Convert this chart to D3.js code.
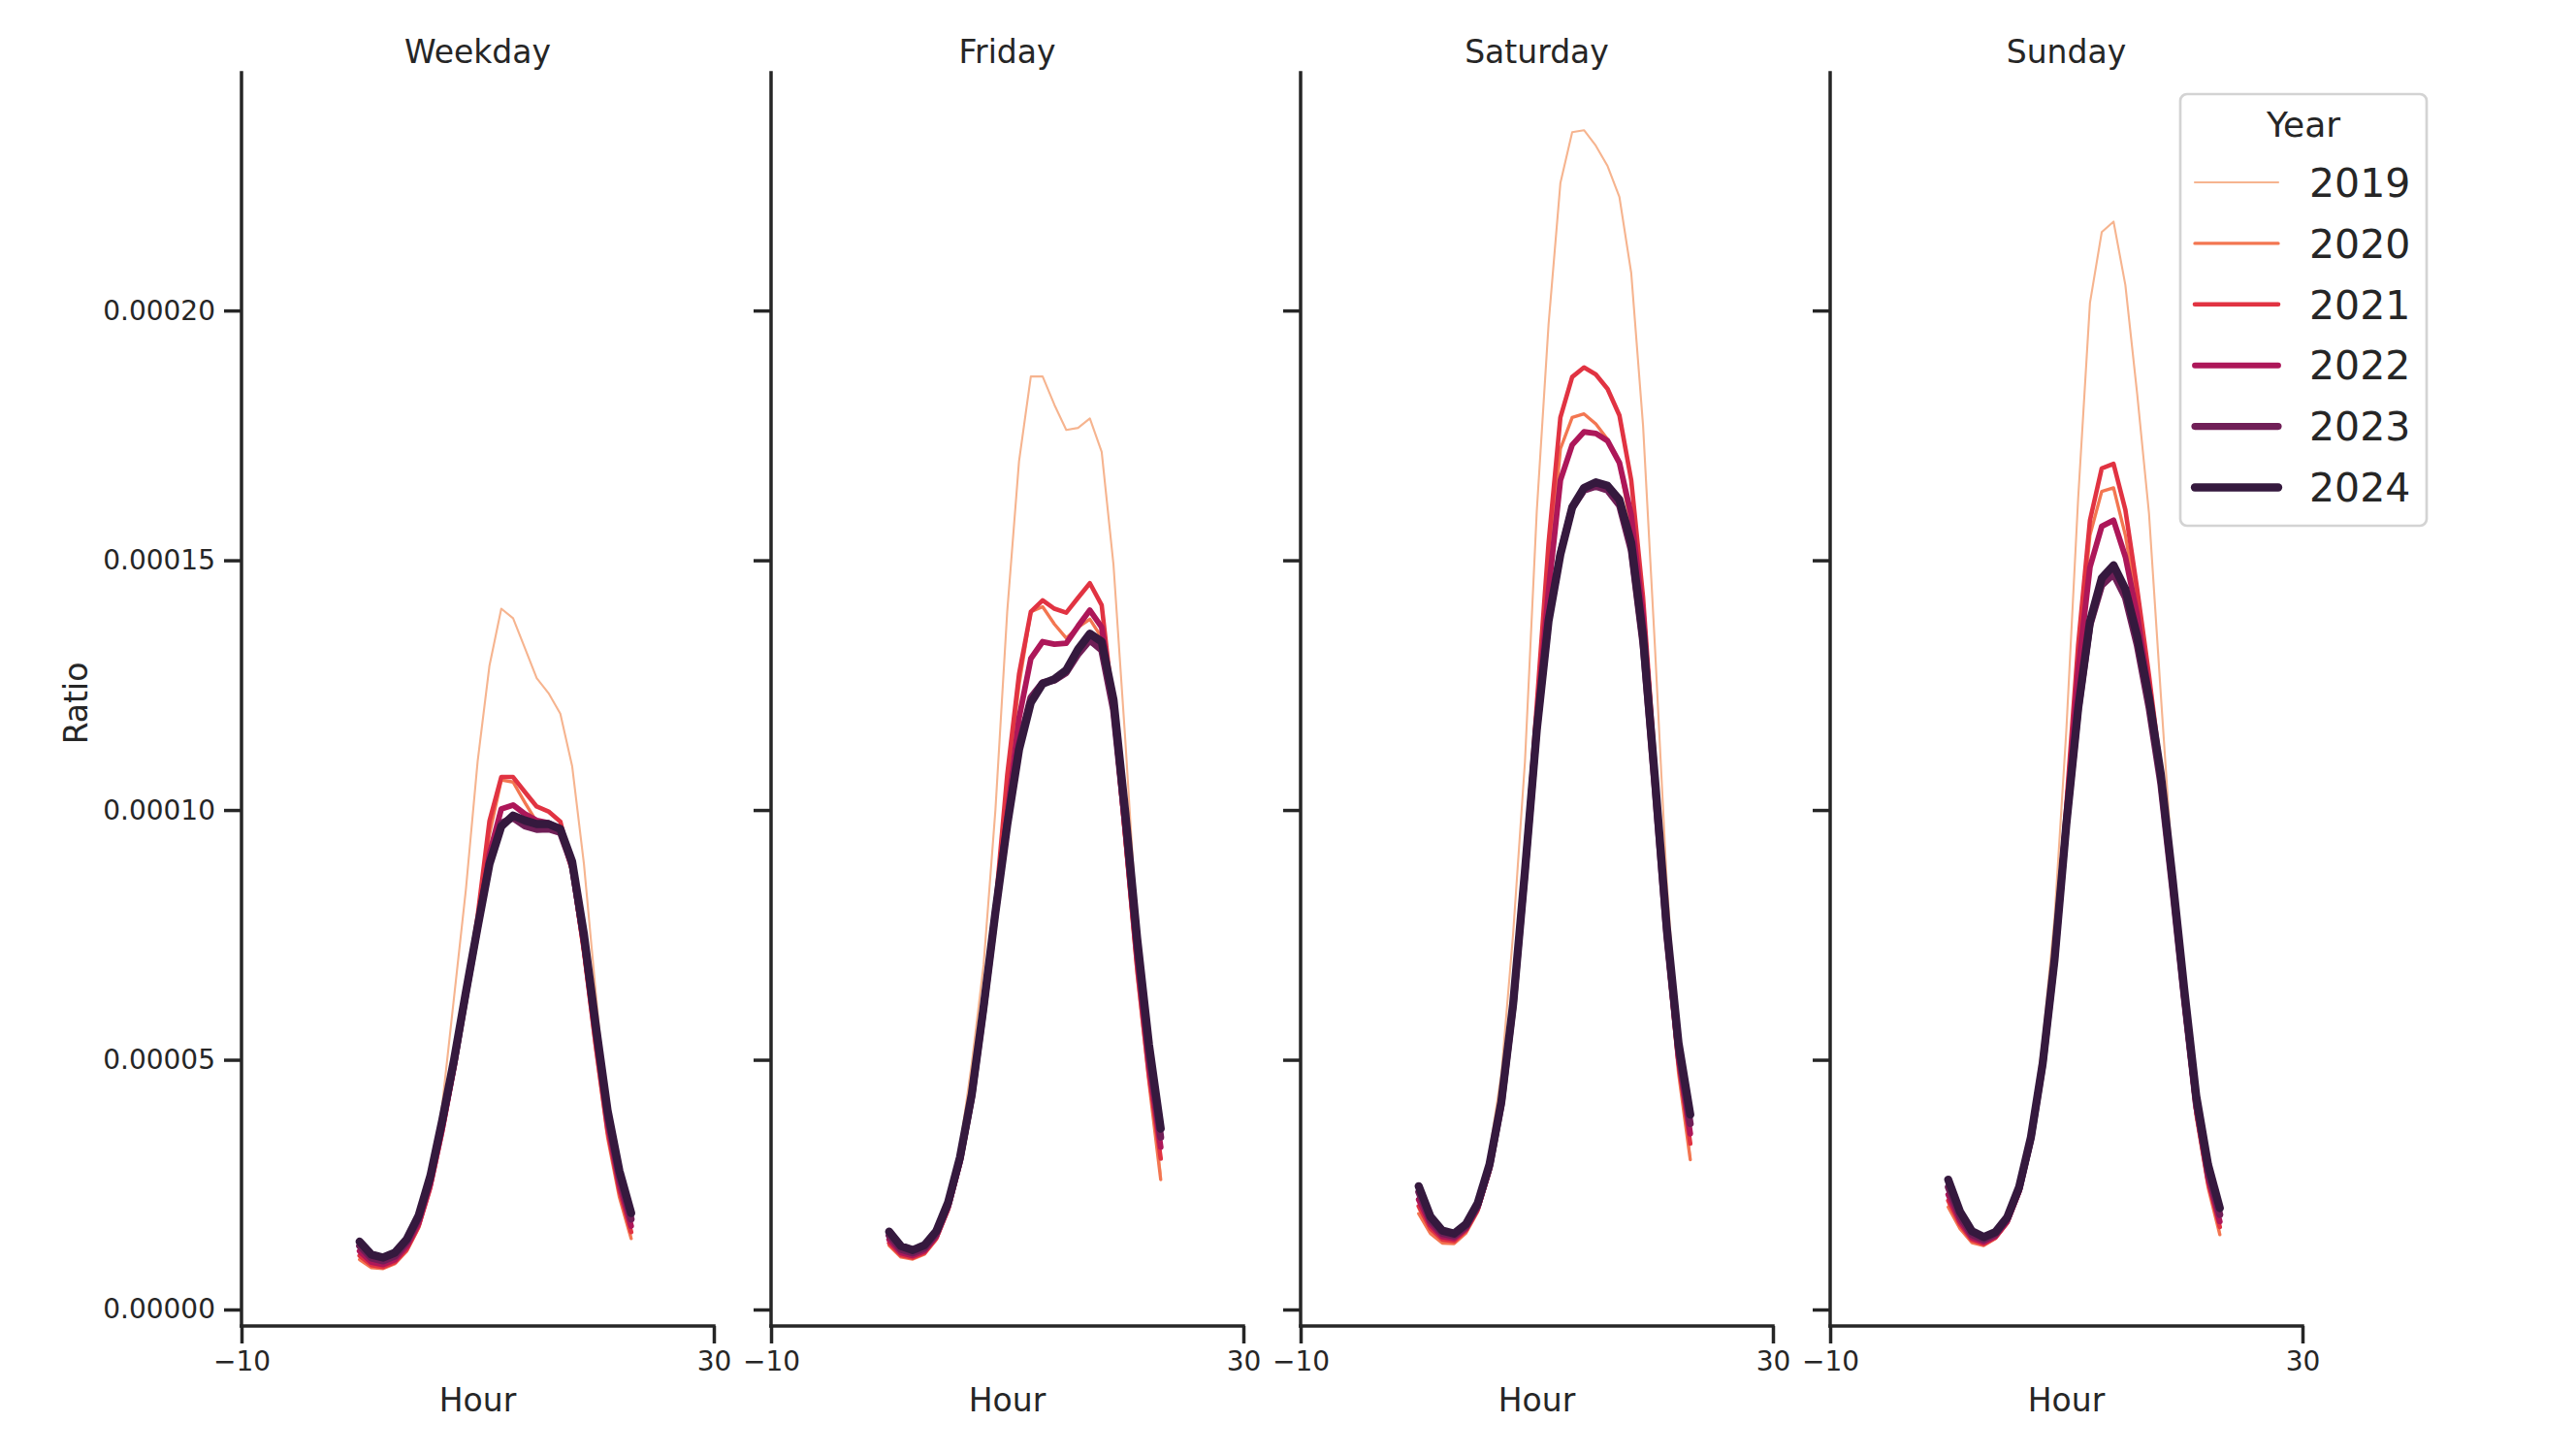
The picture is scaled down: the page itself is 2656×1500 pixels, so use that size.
<!DOCTYPE html>
<html>
<head>
<meta charset="utf-8">
<script src="https://cdn.jsdelivr.net/npm/d3@7"></script>
<style>
  html, body { margin: 0; padding: 0; background: #ffffff; }
  svg { display: block; font-family: "DejaVu Sans", sans-serif; }
</style>
</head>
<body>
<svg id="chart" width="2656" height="1500"></svg>
<script>
// ---------------- data (values in units of 1e-5) ----------------
const UNIT = 1e-5;
const hours = [0,1,2,3,4,5,6,7,8,9,10,11,12,13,14,15,16,17,18,19,20,21,22,23];
const years = [2019, 2020, 2021, 2022, 2023, 2024];
const panels = ["Weekday", "Friday", "Saturday", "Sunday"];
const yTicks = [0, 0.00005, 0.0001, 0.00015, 0.0002];
const yTickLabels = ["0.00000", "0.00005", "0.00010", "0.00015", "0.00020"];
const xTicks = [-10, 30];
const xTickLabels = ["\u221210", "30"];
const colors = ["#f6b48f", "#f37651", "#e13342", "#ad1759", "#701f57", "#35193e"];
const widths = [2.1, 3.35, 4.6, 5.85, 7.1, 8.35];

const weekday2019 = [1.04,0.87,0.85,0.95,1.22,1.72,2.58,4.10,6.25,8.40,10.98,12.89,14.03,13.84,13.24,12.64,12.34,11.93,10.88,8.92,6.35,3.85,2.28,1.45];
const weekday2020 = [1.00,0.84,0.82,0.92,1.17,1.63,2.41,3.52,4.80,6.28,7.80,9.52,10.60,10.56,10.15,9.76,9.70,9.55,8.74,7.08,5.18,3.45,2.25,1.42];
const weekday2021 = [1.08,0.89,0.85,0.95,1.21,1.67,2.45,3.55,4.83,6.32,7.88,9.78,10.66,10.66,10.36,10.07,9.97,9.77,8.82,7.18,5.30,3.58,2.38,1.55];
const weekday2022 = [1.17,0.95,0.90,1.00,1.27,1.73,2.52,3.62,4.86,6.28,7.70,9.12,10.02,10.10,9.92,9.79,9.74,9.62,8.84,7.30,5.45,3.73,2.51,1.67];
const weekday2023 = [1.27,1.03,0.97,1.07,1.35,1.82,2.62,3.73,4.95,6.32,7.66,8.96,9.74,9.84,9.68,9.61,9.62,9.55,8.90,7.40,5.58,3.87,2.66,1.81];
const weekday2024 = [1.36,1.10,1.04,1.14,1.41,1.88,2.68,3.79,5.00,6.35,7.66,8.92,9.67,9.89,9.79,9.72,9.72,9.62,8.97,7.51,5.70,3.99,2.78,1.93];

const friday2019 = [1.30,1.07,1.03,1.13,1.43,2.05,3.24,4.93,6.90,10.00,13.97,16.98,18.68,18.68,18.11,17.61,17.65,17.84,17.17,14.91,11.40,7.60,4.90,2.72];
const friday2020 = [1.28,1.05,1.01,1.11,1.40,1.98,2.90,4.18,5.98,8.00,10.50,12.50,13.97,14.07,13.72,13.44,13.66,13.82,13.45,11.85,9.30,6.70,4.55,2.60];
const friday2021 = [1.33,1.09,1.04,1.14,1.43,2.01,2.92,4.20,6.00,8.05,10.70,12.72,13.97,14.20,14.03,13.95,14.25,14.54,14.10,12.00,9.45,6.85,4.70,3.02];
const friday2022 = [1.40,1.14,1.08,1.18,1.47,2.05,2.95,4.22,6.00,7.98,9.90,11.84,13.03,13.37,13.32,13.34,13.68,14.00,13.66,12.05,9.60,7.05,4.90,3.25];
const friday2023 = [1.48,1.20,1.13,1.23,1.52,2.10,3.00,4.27,6.03,7.95,9.75,11.30,12.25,12.55,12.60,12.75,13.12,13.40,13.20,12.00,9.75,7.22,5.10,3.45];
const friday2024 = [1.56,1.27,1.19,1.29,1.57,2.15,3.05,4.31,6.06,7.95,9.70,11.21,12.15,12.53,12.62,12.80,13.22,13.53,13.37,12.21,9.95,7.44,5.31,3.62];

const saturday2019 = [2.00,1.57,1.37,1.35,1.57,2.02,3.15,4.71,7.53,10.97,15.98,19.73,22.55,23.57,23.61,23.30,22.89,22.27,20.75,17.70,13.30,8.60,5.20,3.05];
const saturday2020 = [1.92,1.52,1.33,1.32,1.53,1.96,2.74,4.00,6.00,8.80,11.90,14.70,17.23,17.86,17.93,17.73,17.42,16.92,15.66,13.60,10.50,7.25,4.75,3.00];
const saturday2021 = [2.07,1.62,1.40,1.37,1.58,2.00,2.78,4.05,6.05,8.90,12.10,15.35,17.86,18.67,18.86,18.72,18.43,17.90,16.60,14.26,10.95,7.50,4.95,3.32];
const saturday2022 = [2.20,1.70,1.46,1.42,1.62,2.04,2.82,4.08,6.06,8.80,11.80,14.40,16.60,17.31,17.57,17.54,17.39,16.95,15.90,13.90,10.70,7.50,5.05,3.52];
const saturday2023 = [2.35,1.78,1.52,1.47,1.66,2.08,2.86,4.11,6.08,8.76,11.60,13.82,15.15,16.05,16.40,16.48,16.40,16.10,15.20,13.30,10.48,7.50,5.18,3.72];
const saturday2024 = [2.47,1.86,1.58,1.52,1.71,2.13,2.91,4.16,6.12,8.78,11.60,13.79,15.12,16.06,16.45,16.56,16.49,16.21,15.35,13.47,10.66,7.68,5.34,3.90];

const sunday2019 = [2.10,1.66,1.37,1.31,1.45,1.78,2.50,3.60,5.36,7.83,11.59,16.23,20.15,21.57,21.78,20.51,18.33,15.94,12.32,8.80,6.00,3.90,2.45,1.55];
const sunday2020 = [2.05,1.62,1.34,1.28,1.42,1.72,2.32,3.33,4.85,7.05,10.00,13.00,15.50,16.38,16.45,15.50,14.10,12.45,10.60,8.35,5.95,3.85,2.45,1.50];
const sunday2021 = [2.18,1.70,1.39,1.31,1.44,1.74,2.34,3.35,4.87,7.10,10.10,13.30,15.80,16.84,16.93,16.01,14.42,12.70,10.80,8.50,6.10,3.98,2.56,1.65];
const sunday2022 = [2.30,1.77,1.44,1.35,1.47,1.77,2.37,3.38,4.88,7.05,9.85,12.80,14.86,15.68,15.80,15.07,13.91,12.40,10.65,8.45,6.15,4.05,2.65,1.76];
const sunday2023 = [2.45,1.86,1.50,1.40,1.51,1.81,2.41,3.42,4.90,7.00,9.72,12.00,13.70,14.50,14.72,14.25,13.30,12.05,10.52,8.42,6.20,4.12,2.76,1.90];
const sunday2024 = [2.60,1.96,1.57,1.45,1.55,1.85,2.45,3.45,4.93,7.00,9.71,12.03,13.77,14.64,14.90,14.42,13.48,12.25,10.72,8.62,6.38,4.28,2.90,2.03];

const seriesByPanel = {
  Weekday:  [weekday2019, weekday2020, weekday2021, weekday2022, weekday2023, weekday2024],
  Friday:   [friday2019, friday2020, friday2021, friday2022, friday2023, friday2024],
  Saturday: [saturday2019, saturday2020, saturday2021, saturday2022, saturday2023, saturday2024],
  Sunday:   [sunday2019, sunday2020, sunday2021, sunday2022, sunday2023, sunday2024]
};

// ---------------- layout ----------------
const svg = d3.select("#chart");
const TEXT = "#262626";
const panelLeft0 = 249, panelStep = 546, panelW = 487;
const plotTop = 75, plotBottom = 1367;

const y = d3.scaleLinear().domain([-3.3e-6, 2.476e-4]).range([plotBottom, plotTop]);

panels.forEach((name, pi) => {
  const left = panelLeft0 + pi * panelStep;
  const x = d3.scaleLinear().domain([-10, 30]).range([left, left + panelW]);
  const g = svg.append("g");

  // lines
  const line = d3.line().x((d, i) => x(hours[i])).y(d => y(d * UNIT));
  seriesByPanel[name].forEach((vals, yi) => {
    g.append("path")
      .datum(vals)
      .attr("d", line)
      .attr("fill", "none")
      .attr("stroke", colors[yi])
      .attr("stroke-width", widths[yi])
      .attr("stroke-linejoin", "round")
      .attr("stroke-linecap", "round");
  });

  // y axis
  const yAxis = d3.axisLeft(y).tickValues(yTicks)
    .tickFormat((d, i) => pi === 0 ? yTickLabels[i] : "")
    .tickSize(18).tickPadding(9);
  const ya = g.append("g").attr("transform", `translate(${left},0)`).call(yAxis);
  ya.select(".domain").remove();
  ya.append("line").attr("x1", 0).attr("x2", 0).attr("y1", plotTop).attr("y2", plotBottom)
    .attr("stroke", TEXT).attr("stroke-width", 3.5).attr("stroke-linecap", "square");
  ya.selectAll(".tick line").attr("stroke", TEXT).attr("stroke-width", 3.5);
  ya.selectAll(".tick text").attr("fill", TEXT).style("font-size", "28px")
    .style("font-family", "DejaVu Sans");

  // x axis
  const xAxis = d3.axisBottom(x).tickValues(xTicks)
    .tickFormat((d, i) => xTickLabels[i]).tickSize(18).tickPadding(8);
  const xa = g.append("g").attr("transform", `translate(0,${plotBottom})`).call(xAxis);
  xa.select(".domain").remove();
  xa.append("line").attr("x1", left).attr("x2", left + panelW).attr("y1", 0).attr("y2", 0)
    .attr("stroke", TEXT).attr("stroke-width", 3.5).attr("stroke-linecap", "square");
  xa.selectAll(".tick line").attr("stroke", TEXT).attr("stroke-width", 3.5);
  xa.selectAll(".tick text").attr("fill", TEXT).style("font-size", "28px")
    .style("font-family", "DejaVu Sans");

  // title
  g.append("text").attr("x", left + panelW / 2).attr("y", 65)
    .attr("text-anchor", "middle").attr("fill", TEXT)
    .style("font-size", "33px").text(name);

  // x label
  g.append("text").attr("x", left + panelW / 2).attr("y", 1455)
    .attr("text-anchor", "middle").attr("fill", TEXT)
    .style("font-size", "33px").text("Hour");
});

// y label
svg.append("text")
  .attr("transform", "translate(90,725) rotate(-90)")
  .attr("text-anchor", "middle").attr("fill", TEXT)
  .style("font-size", "33px").text("Ratio");

// ---------------- legend ----------------
const lg = svg.append("g");
lg.append("rect").attr("x", 2248).attr("y", 97).attr("width", 254).attr("height", 445)
  .attr("rx", 7).attr("ry", 7)
  .attr("fill", "rgba(255,255,255,0.8)").attr("stroke", "#d3d3d3").attr("stroke-width", 2.7);
lg.append("text").attr("x", 2375).attr("y", 141).attr("text-anchor", "middle")
  .attr("fill", TEXT).style("font-size", "36px").text("Year");
years.forEach((yr, i) => {
  const cy = 188 + i * 62.9;
  lg.append("line").attr("x1", 2263).attr("x2", 2349).attr("y1", cy).attr("y2", cy)
    .attr("stroke", colors[i]).attr("stroke-width", widths[i]).attr("stroke-linecap", "round");
  lg.append("text").attr("x", 2381).attr("y", cy).attr("dy", "0.36em")
    .attr("fill", TEXT).style("font-size", "41px").text(yr);
});
</script>
</body>
</html>
